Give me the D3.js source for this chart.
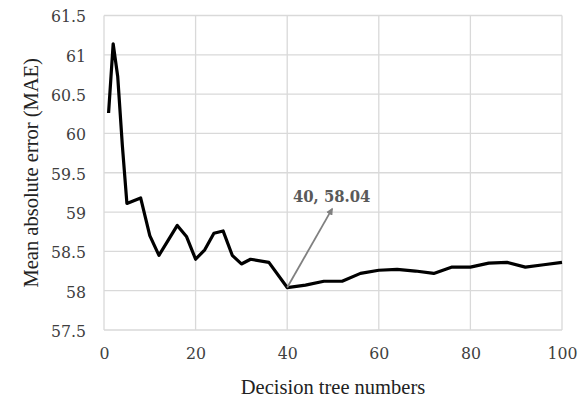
<!DOCTYPE html>
<html>
<head>
<meta charset="utf-8">
<script src="https://cdn.jsdelivr.net/npm/d3@7"></script>
<style>
	html, body { margin:0; padding:0; background:#fff; }
	svg { display:block; }
</style>
</head>
<body>
<div id="chart"></div>
<script>
// decision tree count vs MAE
var treeNumbers = [1,2,3,4,5,8,10,12,14,16,18,20,22,24,26,28,30,32,36,40,
	44,48,52,56,60,64,68,72,76,80,84,88,92,96,100];
var maeValues = [60.26,61.14,60.72,59.85,59.11,59.18,58.70,58.45,58.64,58.83,
	58.69,58.40,58.52,58.73,58.76,58.45,58.34,58.40,58.36,58.04,
	58.07,58.12,58.12,58.22,58.26,58.27,58.25,58.22,58.30,58.30,
	58.35,58.36,58.30,58.33,58.36];
var xTicks = [0,20,40,60,80,100];
var yTicks = [57.5,58,58.5,59,59.5,60,60.5,61,61.5];
var minPoint = [40, 58.04];
var minLabel = '40, 58.04';

var W = 584, H = 400;
var margin = {left:104, right:22, top:15.5, bottom:70};
var tickFont = 'DejaVu Serif';
var titleFont = 'Liberation Serif';

var svg = d3.select('#chart')
	.append('svg')
	.attr('width', W)
	.attr('height', H);

var x = d3.scaleLinear()
	.domain([0, 100])
	.range([margin.left, W - margin.right]);
var y = d3.scaleLinear()
	.domain([57.5, 61.5])
	.range([H - margin.bottom, margin.top]);

//1.grid
var grid = svg.append('g');
grid.selectAll('line.v')
	.data(xTicks)
	.enter()
	.append('line')
	.attr('class', 'v')
	.attr('x1', function(d){ return x(d); })
	.attr('x2', function(d){ return x(d); })
	.attr('y1', y(61.5))
	.attr('y2', y(57.5))
	.attr('stroke', '#d9d9d9')
	.attr('stroke-width', 1.3);
grid.selectAll('line.h')
	.data(yTicks)
	.enter()
	.append('line')
	.attr('class', 'h')
	.attr('x1', x(0))
	.attr('x2', x(100))
	.attr('y1', function(d){ return y(d); })
	.attr('y2', function(d){ return y(d); })
	.attr('stroke', '#d9d9d9')
	.attr('stroke-width', 1.3);

//2.axes
var xAxis = svg.append('g')
	.attr('transform', 'translate(0,' + y(57.5) + ')')
	.call(d3.axisBottom(x).tickValues(xTicks).tickSize(0).tickPadding(29)
		.tickFormat(function(d){ return d; }));
var yAxis = svg.append('g')
	.attr('transform', 'translate(' + x(0) + ',0)')
	.call(d3.axisLeft(y).tickValues(yTicks).tickSize(0).tickPadding(18)
		.tickFormat(function(d){ return d; }));
[xAxis, yAxis].forEach(function(a){
	a.attr('font-family', null).attr('font-size', null);
	a.select('.domain').remove();
	a.selectAll('text')
		.attr('fill', '#404040')
		.attr('font-family', tickFont)
		.attr('font-stretch', 'condensed')
		.attr('font-size', 17.5);
});
xAxis.selectAll('text').attr('dy', '0');
yAxis.selectAll('text').attr('dy', '0.36em');

//3.line
var line = d3.line()
	.x(function(d, i){ return x(treeNumbers[i]); })
	.y(function(d){ return y(d); });
svg.append('path')
	.datum(maeValues)
	.attr('d', line)
	.attr('fill', 'none')
	.attr('stroke', '#000')
	.attr('stroke-width', 3.2)
	.attr('stroke-linejoin', 'round');

//4.annotation
svg.append('defs')
	.append('marker')
	.attr('id', 'arr')
	.attr('viewBox', '0 0 10 10')
	.attr('refX', 8)
	.attr('refY', 5)
	.attr('markerWidth', 4)
	.attr('markerHeight', 4)
	.attr('orient', 'auto')
	.append('path')
	.attr('d', 'M0,0L10,5L0,10z')
	.attr('fill', '#808080');
svg.append('line')
	.attr('x1', x(minPoint[0]))
	.attr('y1', y(minPoint[1]))
	.attr('x2', x(minPoint[0] + 9.8))
	.attr('y2', y(minPoint[1] + 1.0))
	.attr('stroke', '#808080')
	.attr('stroke-width', 1.8)
	.attr('marker-end', 'url(#arr)');
svg.append('text')
	.attr('x', x(minPoint[0] + 9.7))
	.attr('y', y(minPoint[1] + 1.09))
	.attr('text-anchor', 'middle')
	.attr('fill', '#595959')
	.attr('font-family', tickFont)
	.attr('font-stretch', 'condensed')
	.attr('font-weight', 'bold')
	.attr('font-size', 16.5)
	.text(minLabel);

//5.titles
svg.append('text')
	.attr('x', (x(0) + x(100)) / 2)
	.attr('y', 394)
	.attr('text-anchor', 'middle')
	.attr('fill', '#222')
	.attr('font-family', titleFont)
	.attr('font-size', 20.5)
	.text('Decision tree numbers');
svg.append('text')
	.attr('transform', 'translate(38,' + (y(57.5) + y(61.5)) / 2 + ') rotate(-90)')
	.attr('text-anchor', 'middle')
	.attr('fill', '#222')
	.attr('font-family', titleFont)
	.attr('font-size', 20.5)
	.text('Mean absolute error (MAE)');
</script>
</body>
</html>
